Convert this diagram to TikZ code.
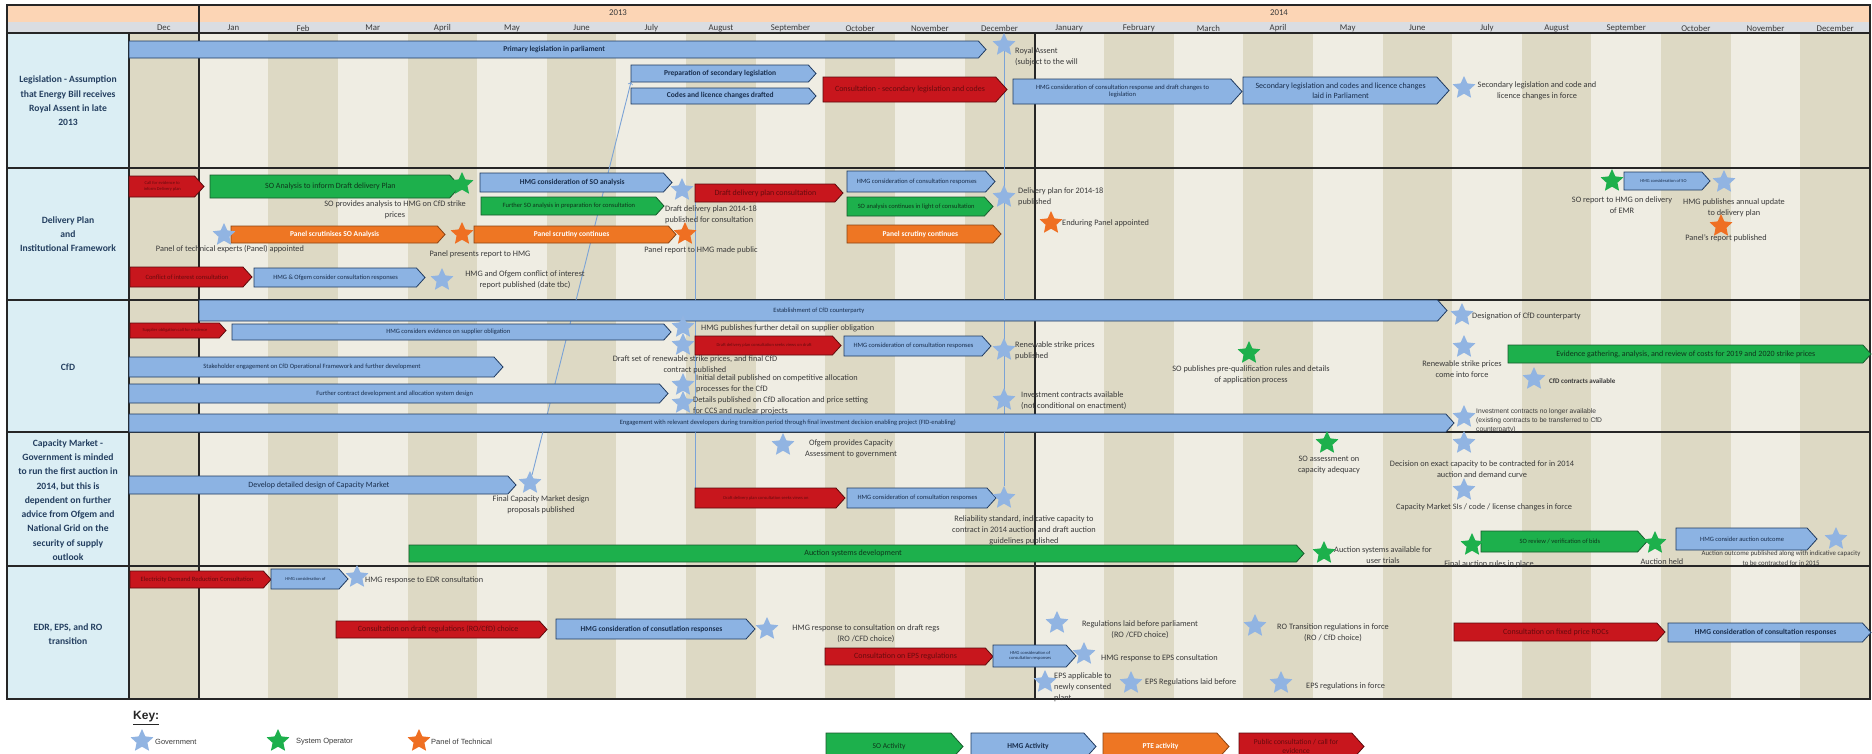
\documentclass[tikz,border=0pt]{standalone}
\usepackage{fontspec}
\setmainfont{Carlito}
\newfontfamily\arialfont{Liberation Sans}
\usetikzlibrary{shapes.geometric}

\definecolor{darkstripe}{HTML}{DDD9C4}
\definecolor{lightstripe}{HTML}{EFEDE3}
\definecolor{headorange}{HTML}{FCD5B5}
\definecolor{headgrey}{HTML}{DADDE2}
\definecolor{labblue}{HTML}{DBEEF4}
\definecolor{labtext}{HTML}{243F60}
\definecolor{notegrey}{HTML}{3A3A3A}
\definecolor{gridcol}{HTML}{262626}
\definecolor{hmgfill}{HTML}{8CB3E3}
\definecolor{hmgline}{HTML}{1F3A60}
\definecolor{sofill}{HTML}{1DB04C}
\definecolor{soline}{HTML}{185A2C}
\definecolor{ptefill}{HTML}{EE7623}
\definecolor{pteline}{HTML}{8A4313}
\definecolor{pubfill}{HTML}{C8161D}
\definecolor{publine}{HTML}{5C0A0C}
\definecolor{govstar}{HTML}{91B4E2}
\definecolor{sostar}{HTML}{1DB04C}
\definecolor{ptestar}{HTML}{EF6F22}
\definecolor{linkblue}{HTML}{7BA3D6}

\tikzstyle{hmg} = [fill=hmgfill, draw=hmgline, line width=0.8pt]
\tikzstyle{so} = [fill=sofill, draw=soline, line width=0.8pt]
\tikzstyle{pte} = [fill=ptefill, draw=pteline, line width=0.8pt]
\tikzstyle{pub} = [fill=pubfill, draw=publine, line width=0.8pt]
\tikzstyle{bartxt} = [inner sep=0pt, align=center, font=\fontsize{7.5}{9}\selectfont\bfseries]
\tikzstyle{hmgtxt} = [bartxt, text=hmgline!80!black]
\tikzstyle{sotxt} = [bartxt, text=soline!60!black, font=\fontsize{8}{9.5}\selectfont]
\tikzstyle{ptetxt} = [bartxt, text=white]
\tikzstyle{pubtxt} = [bartxt, text=publine!90!pubfill, font=\fontsize{8}{9.5}\selectfont]
\tikzstyle{regtxt} = [font=\fontsize{8}{9.5}\selectfont]
\tikzstyle{smalltxt} = [font=\fontsize{6.5}{7.5}\selectfont]
\tikzstyle{tinytxt} = [font=\fontsize{4.5}{5.5}\selectfont]
\tikzstyle{milestone} = [star, star points=5, star point ratio=2.1, minimum size=24pt, inner sep=0pt, draw=none]
\tikzstyle{gov} = [milestone, fill=govstar]
\tikzstyle{sys} = [milestone, fill=sostar]
\tikzstyle{panel} = [milestone, fill=ptestar]
\tikzstyle{ann} = [inner sep=0pt, align=center, text=notegrey, font=\fontsize{8.3}{11}\selectfont]
\tikzstyle{lann} = [ann, align=left, anchor=west]
\tikzstyle{rowlab} = [inner sep=0pt, align=center, text=labtext, font=\fontsize{9.6}{14.3}\selectfont\bfseries]
\tikzstyle{monthlab} = [inner sep=0pt, text=notegrey, font=\fontsize{8.8}{10}\selectfont]
\tikzstyle{gridline} = [draw=gridcol, line width=1.1pt]
\tikzstyle{yearline} = [draw=gridcol, line width=1.6pt]
\tikzstyle{keytxt} = [lann, font=\arialfont\fontsize{7.5}{9}\selectfont]
\tikzstyle{link} = [draw=linkblue, line width=0.9pt]

% activity bar: [text options]{style}{name}{x start}{x tip}{y top}{y bottom}{text}
\newcommand{\actbar}[8][]{%
  \draw[#2] (#4,#6) -- ({#5-0.45*(#7-#6)},#6) -- (#5,{(#6+#7)/2})
     -- ({#5-0.45*(#7-#6)},#7) -- (#4,#7) -- cycle;
  \node[#2txt,#1] (#3) at ({(#4+#5)/2-0.2*(#7-#6)},{(#6+#7)/2}) {#8};
  \coordinate (#3-w) at (#4,{(#6+#7)/2});
  \coordinate (#3-sw) at (#4,#7);}

\pgfdeclarelayer{grid}
\pgfdeclarelayer{links}
\pgfsetlayers{grid,links,main}

\begin{document}
\begin{tikzpicture}[x=1pt, y=-1pt]
\useasboundingbox (0,0) rectangle (1872,753);
\clip (0,0) rectangle (1872,753);

\begin{pgfonlayer}{grid}
    \fill[white] (0,0) rectangle (1872,753);
    \fill[headorange] (7,5) rectangle (1870,22);
    \fill[headgrey] (7,22) rectangle (1870,33);
    \fill[labblue] (7,33) rectangle (129,699);
    \fill[lightstripe] (129,33) rectangle (1870,699);
    \foreach \i in {0,2,...,24}
        \fill[darkstripe] ({129+69.64*\i},33) rectangle ({129+69.64*(\i+1)},699);
    \foreach \y in {168,300,432,566}
        \draw[gridline] (7,\y) -- (1870,\y);
    \draw[gridline] (7,33) -- (1870,33);
    \draw[gridline] (129,33) -- (129,699);
    \draw[yearline] (199,5) -- (199,699);
    \draw[yearline] (1035,33) -- (1035,699);
    \draw[gridline] (7,5) rectangle (1870,699);
\end{pgfonlayer}

% header
\node[monthlab] (y13) at (618,13) {2013};
\node[monthlab] (y14) at (1279,13) {2014};
\foreach \m [count=\i from 0] in {Dec,Jan,Feb,Mar,April,May,June,July,August,September,October,November,December,January,February,March,April,May,June,July,August,September,October,November,December}
    \node[monthlab] (m\i) at ({129+69.64*(\i+0.5)},28) {\m};

% row labels
\node[rowlab] (lleg) at (68,101) {Legislation -  Assumption\\that Energy Bill receives\\Royal Assent in late\\2013};
\node[rowlab] (ldel) at (68,234) {Delivery Plan\\and\\Institutional Framework};
\node[rowlab] (lcfd) at (68,367) {CfD};
\node[rowlab] (lcm) at (68,500) {Capacity Market -\\Government is minded\\to run the first auction in\\2014, but this is\\dependent on further\\advice from Ofgem and\\National Grid on the\\security of supply\\outlook};
\node[rowlab] (ledr) at (68,634) {EDR, EPS, and RO\\transition};

% legislation
\actbar{hmg}{primleg}{129}{986}{41}{58}{Primary legislation in parliament}
\actbar{hmg}{prep}{631}{816}{65}{82}{Preparation of secondary legislation}
\actbar{hmg}{codes}{631}{816}{88}{104}{Codes and licence changes drafted}
\actbar{pub}{seccons}{823}{1007}{77}{102}{Consultation - secondary legislation and codes}
\actbar[smalltxt]{hmg}{hmgcons}{1013}{1242}{79}{104}{HMG consideration of consultation response and draft changes to\\legislation}
\actbar[regtxt]{hmg}{secleg}{1243}{1449}{77}{104}{Secondary legislation and codes and licence changes\\laid in Parliament}
\node[gov] (ra) at (1004,45) {};
\node[lann] (rat) at (1015,57) {Royal Assent\\(subject to the will};
\node[gov] (slif) at (1464,88) {};
\node[ann] (sliftxt) at (1537,91) {Secondary legislation and code and\\licence changes in force};

% delivery plan
\actbar[tinytxt]{pub}{cfe}{129}{204}{176}{197}{Call for evidence to\\inform Delivery plan}
\actbar{so}{soan}{210}{460}{175}{198}{SO Analysis to inform Draft delivery Plan}
\actbar{pte}{panscr}{231}{445}{226}{243}{Panel scrutinises SO Analysis}
\actbar{hmg}{hmgso}{480}{672}{173}{192}{HMG consideration of SO analysis}
\actbar[smalltxt]{so}{furtherso}{481}{664}{197}{215}{Further SO analysis in preparation for consultation}
\actbar{pub}{ddpc}{695}{843}{184}{202}{Draft delivery plan consultation}
\actbar{pte}{panscrb}{474}{676}{226}{243}{Panel scrutiny continues}
\actbar[smalltxt]{hmg}{hmgcra}{847}{995}{171}{192}{HMG consideration of consultation responses}
\actbar[smalltxt]{so}{socont}{847}{993}{197}{216}{SO analysis continues in light of consultation}
\actbar{pte}{panscrc}{847}{1001}{225}{243}{Panel scrutiny continues}
\actbar[tinytxt]{hmg}{hmgsorep}{1624}{1710}{172}{190}{HMG consideration of SO}
\actbar[smalltxt]{pub}{coicons}{130}{252}{267}{287}{Conflict of interest consultation}
\actbar[smalltxt]{hmg}{coiresp}{254}{425}{268}{287}{HMG \& Ofgem consider consultation responses}
\node[sys] (soprov) at (462,184) {};
\node[ann] (soprovt) at (395,210) {SO provides analysis to HMG on CfD strike\\prices};
\node[gov] (panapp) at (224,235) {};
\node[ann] (panappt) at (230,249) {Panel of technical experts (Panel) appointed};
\node[panel] (panpres) at (462,234) {};
\node[ann] (panprest) at (480,254) {Panel presents report to HMG};
\node[gov] (ddpstar) at (682,190) {};
\node[lann] (ddpt) at (665,214.5) {Draft delivery plan 2014-18\\published for consultation};
\node[panel] (panrep) at (685,234) {};
\node[ann] (panrept) at (701,250) {Panel report to HMG made public};
\node[gov] (dpub) at (1004,197) {};
\node[lann] (dpubt) at (1018,197) {Delivery plan for 2014-18\\published};
\node[panel] (endur) at (1051,223) {};
\node[lann] (endurt) at (1062,223) {Enduring Panel appointed};
\node[sys] (soemr) at (1612,181) {};
\node[ann] (soemrt) at (1622,205.5) {SO report to HMG on delivery\\of EMR};
\node[gov] (annual) at (1724,182) {};
\node[ann] (annualt) at (1734,208) {HMG publishes annual update\\to delivery plan};
\node[panel] (panrpt) at (1721,226) {};
\node[ann] (panrptt) at (1726,238) {Panel's report published};
\node[gov] (coirep) at (442,280) {};
\node[ann] (coirept) at (525,279.5) {HMG and Ofgem conflict of interest\\report published (date tbc)};

% cfd
\actbar[smalltxt]{hmg}{estab}{199}{1447}{300}{321}{Establishment of CfD counterparty}
\actbar[tinytxt]{pub}{socfe}{130}{226}{323}{338}{Supplier obligation call for evidence}
\actbar[smalltxt]{hmg}{soevid}{232}{671}{324}{340}{HMG considers evidence on supplier obligation}
\actbar[tinytxt]{pub}{ddpcb}{695}{841}{336}{355}{Draft delivery plan consultation seeks views on draft}
\actbar[smalltxt]{hmg}{hmgcrb}{844}{991}{336}{356}{HMG consideration of consultation responses}
\actbar[smalltxt]{hmg}{stake}{129}{503}{357}{377}{Stakeholder engagement  on CfD Operational Framework and further development}
\actbar{so}{evid}{1508}{1871}{345}{363}{Evidence gathering, analysis, and review  of costs for 2019 and 2020 strike prices}
\actbar[smalltxt]{hmg}{furthercon}{129}{668}{384}{403}{Further contract development and allocation system design}
\actbar[smalltxt]{hmg}{engage}{129}{1454}{414}{432}{Engagement with relevant developers during transition period through final investment decision enabling project (FID-enabling)}
\node[gov] (desig) at (1462,315) {};
\node[lann] (desigt) at (1472,316) {Designation of CfD counterparty};
\node[gov] (supdet) at (683,327) {};
\node[lann] (supdett) at (701,328) {HMG publishes further detail on supplier obligation};
\node[gov] (draftsp) at (683,345) {};
\node[ann] (draftspt) at (695,365) {Draft set of renewable strike prices, and final CfD\\contract published};
\node[gov] (rsp) at (1004,350) {};
\node[lann] (rspt) at (1015,351) {Renewable strike prices\\published};
\node[sys] (preq) at (1249,353) {};
\node[ann] (preqt) at (1251,375) {SO publishes pre-qualification rules and details\\of application process};
\node[gov] (rsforce) at (1464,347) {};
\node[ann] (rsforcet) at (1462,369) {Renewable strike prices\\come into force};
\node[gov] (cfdav) at (1534,379) {};
\node[lann, font=\fontsize{7}{8}\selectfont\bfseries] (cfdavt) at (1549,381) {CfD contracts available};
\node[gov] (initdet) at (683,385) {};
\node[lann] (initdett) at (696,384) {Initial detail published on competitive allocation\\processes for the CfD};
\node[gov] (details) at (683,403) {};
\node[lann] (detailst) at (693,406) {Details published on CfD allocation and price setting\\for CCS and nuclear projects};
\node[gov] (invav) at (1004,400) {};
\node[lann] (invavt) at (1021,400.5) {Investment contracts available\\(not conditional on enactment)};
\node[gov] (invno) at (1464,417) {};
\node[lann, font=\arialfont\fontsize{6.7}{9}\selectfont] (invnot) at (1476,421) {Investment contracts no longer available\\(existing contracts to be transferred to CfD\\counterparty)};

% capacity market
\actbar[regtxt]{hmg}{cmdesign}{129}{516}{476}{494}{Develop detailed design of Capacity Market}
\actbar[tinytxt]{pub}{ddpcc}{695}{845}{488}{508}{Draft delivery plan consultation seeks views on}
\actbar[smalltxt]{hmg}{hmgcrc}{847}{996}{488}{508}{HMG consideration of consultation responses}
\actbar{so}{auction}{409}{1304}{545}{562}{Auction systems development}
\actbar[smalltxt]{so}{soreview}{1481}{1647}{531}{552}{SO review / verification of bids}
\actbar[smalltxt]{hmg}{hmgauc}{1676}{1817}{528}{550}{HMG consider auction outcome}
\node[gov] (ofgem) at (783,445) {};
\node[ann] (ofgemt) at (851,448.5) {Ofgem provides Capacity\\Assessment to government};
\node[sys] (soadeq) at (1327,443) {};
\node[ann] (soadeqt) at (1329,464.5) {SO assessment  on\\capacity adequacy};
\node[gov] (decision) at (1464,443) {};
\node[ann] (decisiont) at (1482,469) {Decision on exact capacity to be contracted for  in 2014\\auction and demand curve};
\node[gov] (cmfinal) at (530,483) {};
\node[ann] (cmfinalt) at (541,505) {Final Capacity Market design\\proposals published};
\node[gov] (relstd) at (1004,498) {};
\node[ann] (relstdt) at (1024,530) {Reliability standard, indicative capacity to\\contract in 2014 auction, and draft auction\\guidelines published};
\node[gov] (cmsis) at (1464,490) {};
\node[ann] (cmsist) at (1484,507) {Capacity Market SIs / code / license changes in force};
\node[sys] (ausav) at (1324,553) {};
\node[ann] (ausavt) at (1383,555) {Auction systems available for\\user trials};
\node[sys] (finrules) at (1472,545) {};
\node[ann] (finrulest) at (1489,564) {Final auction rules in place};
\node[sys] (auheld) at (1655,543) {};
\node[ann] (auheldt) at (1662,562) {Auction held};
\node[gov] (auout) at (1836,539) {};
\node[ann, font=\fontsize{6.8}{10}\selectfont] (auoutt) at (1781,558) {Auction outcome published  along with indicative  capacity\\to be contracted for in 2015};

% edr, eps and ro transition
\actbar[smalltxt]{pub}{edrcons}{130}{271}{571}{588}{Electricity Demand Reduction Consultation}
\actbar[tinytxt]{hmg}{edrhmg}{271}{348}{569}{589}{HMG consideration of}
\actbar{pub}{draftregs}{336}{547}{621}{638}{Consultation on draft regulations (RO/CfD) choice}
\actbar{hmg}{hmgcrd}{556}{755}{619}{639}{HMG consideration of consutlation responses}
\actbar{pub}{epscons}{825}{993}{648}{665}{Consultation on EPS regulations}
\actbar[tinytxt]{hmg}{epshmg}{993}{1076}{645}{667}{HMG consideration of\\consultation responses}
\actbar{pub}{rocs}{1454}{1665}{623}{641}{Consultation on fixed price ROCs}
\actbar{hmg}{hmgcre}{1668}{1871}{623}{642}{HMG consideration of consultation responses}
\node[gov] (edrresp) at (357,577) {};
\node[lann] (edrrespt) at (365,580) {HMG response to EDR consultation};
\node[gov] (draftresp) at (767,629) {};
\node[ann] (draftrespt) at (866,634) {HMG response to consultation on draft regs\\(RO /CFD choice)};
\node[gov] (regslaid) at (1057,623) {};
\node[ann] (regslaidt) at (1140,630) {Regulations laid before parliament\\(RO /CFD choice)};
\node[gov] (rotrans) at (1255,626) {};
\node[ann] (rotranst) at (1333,633) {RO Transition regulations in force\\(RO / CfD choice)};
\node[gov] (epsresp) at (1084,654) {};
\node[lann] (epsrespt) at (1101,658) {HMG response to EPS consultation};
\node[gov] (epsnew) at (1045,682) {};
\node[lann] (epsnewt) at (1054,687) {EPS applicable to\\newly consented\\plant};
\node[gov] (epslaid) at (1131,683) {};
\node[lann] (epslaidt) at (1145,682) {EPS Regulations laid before};
\node[gov] (epsforce) at (1281,683) {};
\node[lann] (epsforcet) at (1306,686) {EPS regulations in force};

% key
\node[lann, font=\arialfont\fontsize{12}{14}\selectfont\bfseries, text=black!85] (key) at (133,718) {\underline{Key:}};
\node[gov] (keygov) at (142,741) {};
\node[keytxt] (keygovt) at (155,742) {Government};
\node[sys] (keysys) at (278,741) {};
\node[keytxt] (keysyst) at (296,742) {System Operator};
\node[panel] (keypan) at (419,741) {};
\node[keytxt] (keypant) at (431,742) {Panel of Technical};
\actbar[font=\fontsize{7.5}{9}\selectfont]{so}{keyso}{826}{963}{733}{760}{SO Activity}
\actbar{hmg}{keyhmg}{971}{1096}{733}{760}{HMG Activity}
\actbar{pte}{keypte}{1103}{1229}{733}{760}{PTE activity}
\actbar[font=\fontsize{7.5}{9.5}\selectfont]{pub}{keypub}{1239}{1364}{733}{760}{Public consultation / call for\\evidence}

% connectors
\begin{pgfonlayer}{links}
    \draw[link,->] (cmfinal) -- (prep-sw);
    \draw[link] (ddpc-w) -- (ddpcc-w);
    \draw[link] (ra) -- (relstd);
\end{pgfonlayer}
\end{tikzpicture}
\end{document}
